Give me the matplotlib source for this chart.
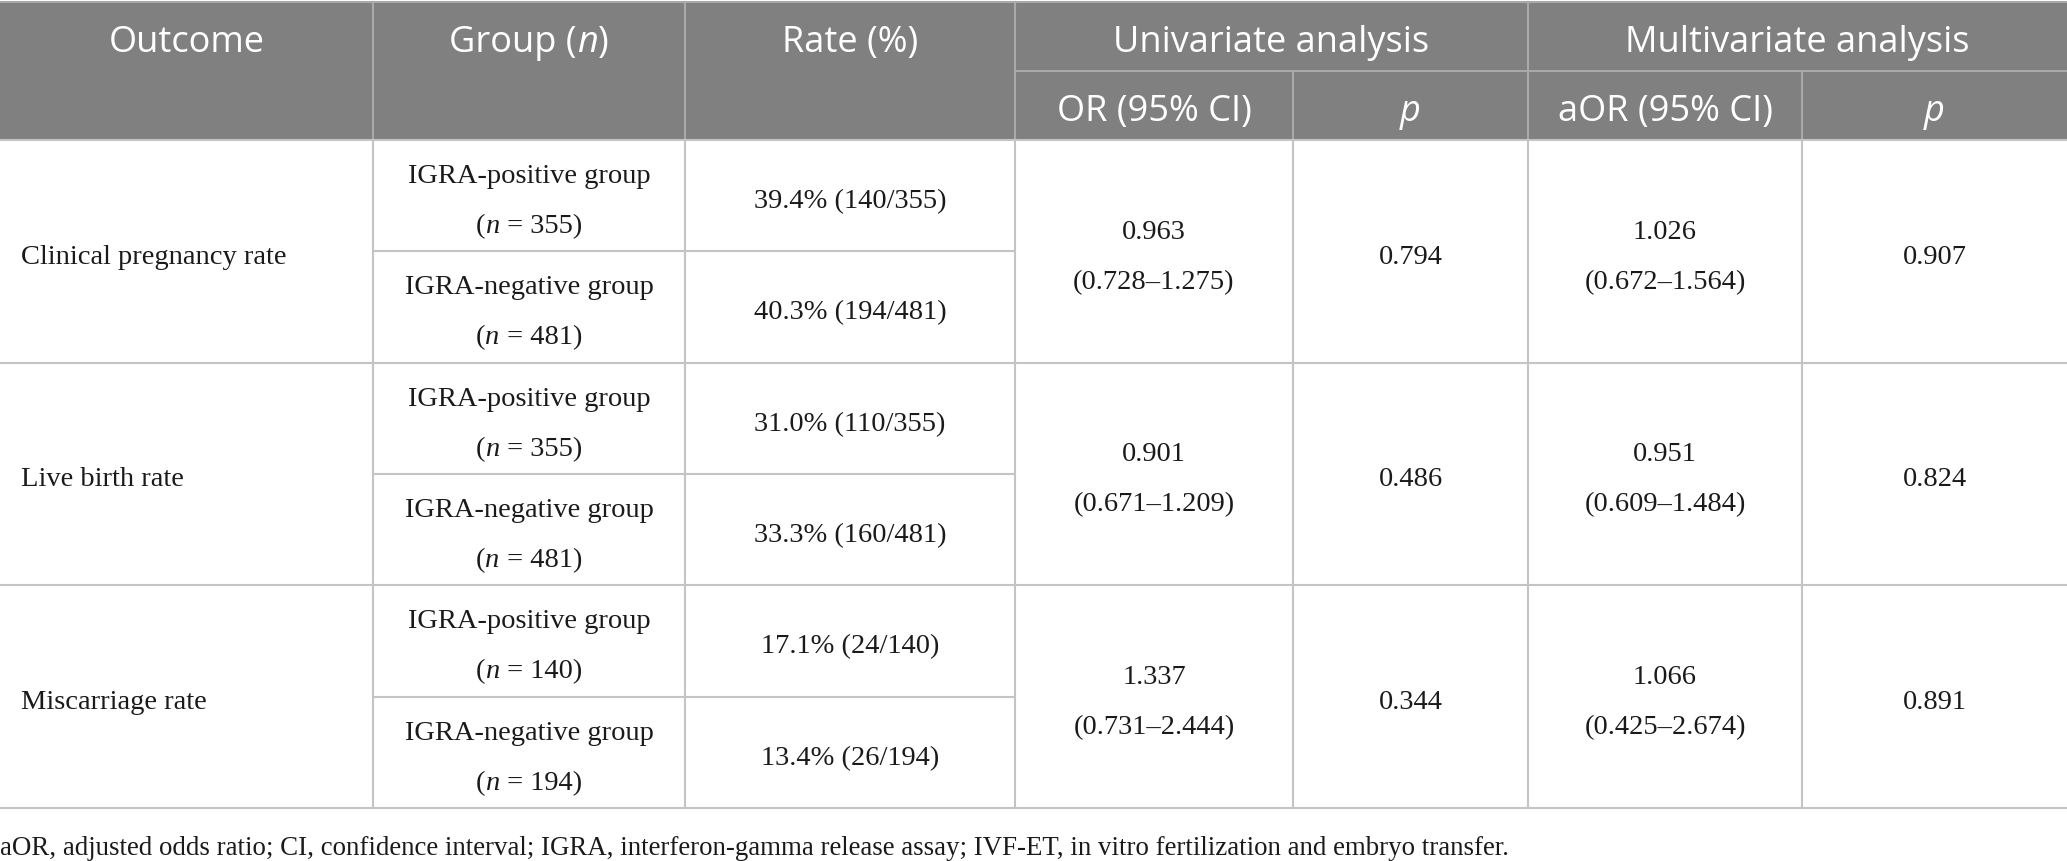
import matplotlib
matplotlib.use("Agg")
import matplotlib.pyplot as plt
from matplotlib.patches import Rectangle

# table content
outcomes = ["Clinical pregnancy rate", "Live birth rate", "Miscarriage rate"]
group_names = ["IGRA-positive group", "IGRA-negative group"]
group_n = [355, 481, 355, 481, 140, 194]
rates = ["39.4% (140/355)", "40.3% (194/481)",
         "31.0% (110/355)", "33.3% (160/481)",
         "17.1% (24/140)", "13.4% (26/194)"]
or_est = ["0.963", "0.901", "1.337"]
or_ci = ["(0.728\u20131.275)", "(0.671\u20131.209)", "(0.731\u20132.444)"]
or_p = ["0.794", "0.486", "0.344"]
aor_est = ["1.026", "0.951", "1.066"]
aor_ci = ["(0.672\u20131.564)", "(0.609\u20131.484)", "(0.425\u20132.674)"]
aor_p = ["0.907", "0.824", "0.891"]
footnote = ("aOR, adjusted odds ratio; CI, confidence interval; IGRA, interferon-gamma "
            "release assay; IVF-ET, in vitro fertilization and embryo transfer.")

W, H = 2067, 862
cols = [0, 373, 685, 1015, 1293, 1528, 1802, 2067]
head_top, head_mid, head_bot = 3, 72, 141
row_h = 111.3

HEAD_BG = "#808080"
HEAD_LINE = "#a9a9a9"
GRID = "#c4c4c4"
INK = "#1a1a1a"
SANS = "Open Sans"
SERIF = "Liberation Serif"
HSIZE = 26
BSIZE = 20.5
FSIZE = 19.4

fig = plt.figure(figsize=(W / 100, H / 100), dpi=100)
ax = fig.add_axes([0, 0, 1, 1])
ax.set_xlim(0, W)
ax.set_ylim(H, 0)
ax.axis("off")
renderer = fig.canvas.get_renderer()


def runs(x, y, parts, family, size, color, ha="center"):
    # draw text pieces (some italic) side by side
    texts = []
    for s, style in parts:
        t = ax.text(0, y, s, family=family, style=style, fontsize=size,
                    color=color, va="center", ha="left")
        texts.append(t)
    widths = [t.get_window_extent(renderer).width for t in texts]
    total = sum(widths)
    x0 = x - total / 2 if ha == "center" else x
    for t, w in zip(texts, widths):
        t.set_x(x0)
        x0 += w


def cx(i, j=None):
    j = i + 1 if j is None else j
    return (cols[i] + cols[j]) / 2


# header block
ax.add_patch(Rectangle((0, head_top), W, head_bot - head_top, color=HEAD_BG, lw=0))
ax.plot([cols[3], W], [head_mid, head_mid], color=HEAD_LINE, lw=1.5)
for i, c in enumerate(cols[1:-1], start=1):
    top = head_mid if i in (4, 6) else head_top
    ax.plot([c, c], [top, head_bot], color=HEAD_LINE, lw=1.5)
ax.plot([0, W], [head_top, head_top], color=HEAD_LINE, lw=1.5)

hy = 43
sy = 112
runs(cx(0), hy, [("Outcome", "normal")], SANS, HSIZE, "white")
runs(cx(1), hy, [("Group (", "normal"), ("n", "italic"), (")", "normal")], SANS, HSIZE, "white")
runs(cx(2), hy, [("Rate (%)", "normal")], SANS, HSIZE, "white")
runs(cx(3, 5), hy, [("Univariate analysis", "normal")], SANS, HSIZE, "white")
runs(cx(5, 7), hy, [("Multivariate analysis", "normal")], SANS, HSIZE, "white")
runs(cx(3), sy, [("OR (95% CI)", "normal")], SANS, HSIZE, "white")
runs(cx(4), sy, [("p", "italic")], SANS, HSIZE, "white")
runs(cx(5), sy, [("aOR (95% CI)", "normal")], SANS, HSIZE, "white")
runs(cx(6), sy, [("p", "italic")], SANS, HSIZE, "white")

# body grid
n_sub = len(group_n)
body_bot = head_bot + n_sub * row_h
ax.plot([0, W], [head_bot, head_bot], color=GRID, lw=1.5)
for k in range(1, n_sub + 1):
    y = head_bot + k * row_h
    if k % 2 == 0:
        ax.plot([0, W], [y, y], color=GRID, lw=1.5)
    else:
        ax.plot([cols[1], cols[3]], [y, y], color=GRID, lw=1.5)
for c in cols[1:-1]:
    ax.plot([c, c], [head_bot, body_bot], color=GRID, lw=1.5)

gap = 25
dy = 5
for k in range(n_sub):
    ym = head_bot + (k + 0.5) * row_h + dy
    runs(cx(1), ym - gap, [(group_names[k % 2], "normal")], SERIF, BSIZE, INK)
    runs(cx(1), ym + gap, [("(", "normal"), ("n", "italic"),
                           (" = %d)" % group_n[k], "normal")], SERIF, BSIZE, INK)
    runs(cx(2), ym, [(rates[k], "normal")], SERIF, BSIZE, INK)

for r in range(len(outcomes)):
    ym = head_bot + (2 * r + 1) * row_h + dy
    runs(21, ym, [(outcomes[r], "normal")], SERIF, BSIZE, INK, ha="left")
    runs(cx(3), ym - gap, [(or_est[r], "normal")], SERIF, BSIZE, INK)
    runs(cx(3), ym + gap, [(or_ci[r], "normal")], SERIF, BSIZE, INK)
    runs(cx(4), ym, [(or_p[r], "normal")], SERIF, BSIZE, INK)
    runs(cx(5), ym - gap, [(aor_est[r], "normal")], SERIF, BSIZE, INK)
    runs(cx(5), ym + gap, [(aor_ci[r], "normal")], SERIF, BSIZE, INK)
    runs(cx(6), ym, [(aor_p[r], "normal")], SERIF, BSIZE, INK)

runs(0, 849, [(footnote, "normal")], SERIF, FSIZE, INK, ha="left")

fig.savefig("out.png", dpi=100)
